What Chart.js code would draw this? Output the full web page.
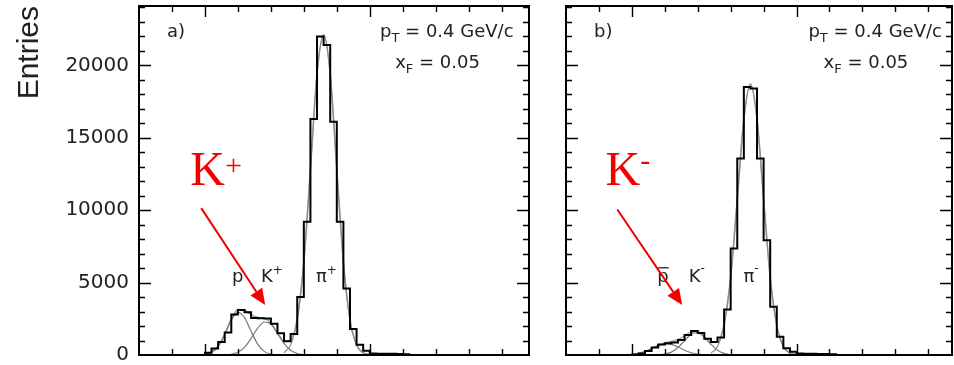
<!DOCTYPE html>
<html><head><meta charset="utf-8">
<script src="https://cdn.jsdelivr.net/npm/chart.js@4/dist/chart.umd.min.js"></script>
<style>
html,body{margin:0;padding:0;background:#fff;overflow:hidden}
#wrap{position:relative;width:954px;height:365px;background:#fff}
#cA{position:absolute;left:0;top:0}
#cB{position:absolute;left:545px;top:0}
</style></head><body>
<div id="wrap"><canvas id="cA" width="545" height="365"></canvas><canvas id="cB" width="409" height="365"></canvas></div>
<script>
// ---- data (x in axis-tick units, 0.2 per bin) ----
const binLow = [1.8,2.0,2.2,2.4,2.6,2.8,3.0,3.2,3.4,3.6,3.8,4.0,4.2,4.4,4.6,4.8,5.0,5.2,5.4,5.6,5.8,6.0,6.2,6.4,6.6,6.8,7.0,7.2,7.4,7.6,7.8,8.0,8.2];
const lastEdge = 8.4;
const countsA = [0,150,450,900,1550,2800,3100,2950,2550,2530,2520,2150,1500,950,1450,4000,9200,16300,22000,21400,16100,9200,4600,1800,700,300,100,90,80,80,70,60,0];
const countsB = [0,40,110,280,520,720,820,870,1040,1380,1650,1520,1120,900,1200,3150,7360,13570,18500,18400,13570,7930,3330,1260,460,230,110,90,80,70,70,60,0];

const fitX = [1.8,2.0,2.2,2.4,2.6,2.8,3.0,3.2,3.4,3.6,3.8,4.0,4.2,4.4,4.6,4.8,5.0,5.2,5.4,5.6,5.8,6.0,6.2,6.4,6.6,6.8,7.0,7.2,7.4];
const N = null;
const pFitA  = [N,40,190,610,1430,2420,2950,2580,1640,750,250,60,10,N,N,N,N,N,N,N,N,N,N,N,N,N,N,N,N];
const kFitA  = [N,N,N,N,N,50,190,530,1140,1850,2280,2130,1500,810,330,100,25,N,N,N,N,N,N,N,N,N,N,N,N];
const piFitA = [N,N,N,N,N,N,N,N,N,N,N,N,N,150,700,2430,6410,12820,19420,22100,19420,12820,6410,2430,700,150,25,N,N];
const totFitA= [N,40,190,610,1430,2470,3140,3110,2780,2600,2530,2190,1510,960,1030,2530,6435,12820,19420,22100,19420,12820,6410,2430,700,150,25,N,N];
const pFitB  = [N,34,100,236,440,654,775,732,551,331,158,60,18,N,N,N,N,N,N,N,N,N,N,N,N,N,N,N,N];
const kFitB  = [N,N,N,N,N,12,58,199,514,991,1427,1535,1234,741,332,111,28,N,N,N,N,N,N,N,N,N,N,N,N];
const piFitB = [N,N,N,N,N,N,N,N,N,N,N,N,N,127,580,2040,5370,10750,16290,18700,16290,10750,5370,2040,580,127,20,N,N];
const totFitB= [N,34,100,236,440,666,833,931,1065,1322,1585,1595,1252,868,912,2151,5398,10750,16290,18700,16290,10750,5370,2040,580,127,20,N,N];

const yTickValues = [0,5000,10000,15000,20000];
const yMax = 24100;
const xMaxA = 11.83, xMaxB = 11.72;
const xMajorTicks = [2,7];
const labelsA = {tag:'a)', peaks:[['p',''],['K','+'],['\u03c0','+']], big:['K','+']};
const labelsB = {tag:'b)', peaks:[['p','bar'],['K','-'],['\u03c0','-']], big:['K','-']};

// ---- helpers ----
function hist(counts){
  const pts = binLow.map((x,i)=>({x, y:counts[i]}));
  pts.push({x:lastEdge, y:0});
  return pts;
}
function curve(arr){ return fitX.map((x,i)=>({x, y:arr[i]})); }

const SANS = 'DejaVu Sans';
function partsDraw(ctx, px, py, parts){
  let cx = px;
  for (const p of parts){
    ctx.font = p.f; ctx.fillStyle = p.c || '#222';
    ctx.fillText(p.t, cx, py + (p.dy||0));
    cx += ctx.measureText(p.t).width;
  }
  return cx;
}

function deco(pos, labels){
  return {
    id:'deco',
    afterDatasetsDraw(chart){
      const {ctx, chartArea:a, scales:{x, y}} = chart;
      ctx.save();
      // tick marks
      ctx.strokeStyle = '#000'; ctx.lineWidth = 1.4;
      ctx.beginPath();
      for (let v = 1; v < x.max; v += 1){
        const px = Math.round(x.getPixelForValue(v)) + 0.5;
        const len = xMajorTicks.includes(v) ? 11 : 6;
        ctx.moveTo(px, a.bottom); ctx.lineTo(px, a.bottom - len);
        ctx.moveTo(px, a.top); ctx.lineTo(px, a.top + len);
      }
      for (let v = 1000; v < y.max; v += 1000){
        const py = Math.round(y.getPixelForValue(v)) + 0.5;
        const len = (v % 5000 === 0) ? 12 : 6;
        ctx.moveTo(a.left, py); ctx.lineTo(a.left + len, py);
        ctx.moveTo(a.right, py); ctx.lineTo(a.right - len, py);
      }
      ctx.stroke();
      ctx.lineWidth = 2;
      ctx.strokeRect(a.left, a.top, a.right - a.left, a.bottom - a.top);

      ctx.textAlign = 'left'; ctx.textBaseline = 'alphabetic';
      const X = v => x.getPixelForValue(v), Y = v => y.getPixelForValue(v);
      const F18 = '18px ' + JSON.stringify(SANS), F13 = '13px ' + JSON.stringify(SANS), F11 = '12px ' + JSON.stringify(SANS);
      // panel tag
      partsDraw(ctx, X(pos.tag[0]), Y(pos.tag[1]), [{t:labels.tag, f:F18}]);
      // pT and xF
      partsDraw(ctx, X(pos.pT[0]), Y(pos.pT[1]), [{t:'p', f:F18},{t:'T', f:F13, dy:5},{t:' = 0.4 GeV/c', f:F18}]);
      partsDraw(ctx, X(pos.xF[0]), Y(pos.xF[1]), [{t:'x', f:F18},{t:'F', f:F13, dy:5},{t:' = 0.05', f:F18}]);
      // peak labels
      labels.peaks.forEach((pk, i) => {
        const px = X(pos.peaks[i][0]), py = Y(pos.peaks[i][1]);
        if (pk[1] === 'bar'){
          ctx.font = F18;
          const w = ctx.measureText('p').width;
          partsDraw(ctx, px, py, [{t:'p', f:F18}]);
          ctx.strokeStyle = '#222'; ctx.lineWidth = 1.3;
          ctx.beginPath(); ctx.moveTo(px + 1, py - 14); ctx.lineTo(px + w, py - 14); ctx.stroke();
        } else {
          const parts = [{t:pk[0], f:F18}];
          if (pk[1]) parts.push({t:pk[1], f:F11, dy: pk[1] === '+' ? -8 : -10});
          partsDraw(ctx, px, py, parts);
        }
      });
      // big red label
      const red = '#f20000';
      partsDraw(ctx, X(pos.big[0]), Y(pos.big[1]), [
        {t:labels.big[0], f:'48px "Liberation Serif"', c:red},
        {t:labels.big[1], f:'30px "Liberation Serif"', c:red, dy: labels.big[1] === '+' ? -10 : -15}
      ]);
      // arrow
      const x0 = X(pos.arrow[0]), y0 = Y(pos.arrow[1]), x1 = X(pos.arrow[2]), y1 = Y(pos.arrow[3]);
      const ang = Math.atan2(y1 - y0, x1 - x0), hl = 16, hw = 7;
      const bx = x1 - hl * Math.cos(ang), by = y1 - hl * Math.sin(ang);
      ctx.strokeStyle = red; ctx.fillStyle = red; ctx.lineWidth = 2;
      ctx.beginPath(); ctx.moveTo(x0, y0); ctx.lineTo(bx, by); ctx.stroke();
      ctx.beginPath(); ctx.moveTo(x1, y1);
      ctx.lineTo(bx + hw * Math.sin(ang), by - hw * Math.cos(ang));
      ctx.lineTo(bx - hw * Math.sin(ang), by + hw * Math.cos(ang));
      ctx.closePath(); ctx.fill();
      ctx.restore();
    }
  };
}

const posA = {tag:[0.85,21930], pT:[7.31,21930], xF:[7.77,19790],
  peaks:[[2.82,5055],[3.70,5055],[5.37,5055]], big:[1.555,11725], arrow:[1.888,10139,3.827,3449]};
const posB = {tag:[0.85,21930], pT:[7.36,21930], xF:[7.82,19790],
  peaks:[[2.77,5055],[3.727,5055],[5.39,5055]], big:[1.203,11725], arrow:[1.558,10049,3.528,3449]};

function datasets(counts, p, k, pi, tot){
  const fit = (arr, col, w) => ({data: curve(arr), borderColor: col, borderWidth: w, pointRadius: 0,
    cubicInterpolationMode: 'monotone', spanGaps: false, fill: false});
  return [
    {data: hist(counts), stepped: true, borderColor: '#000', borderWidth: 2, pointRadius: 0, fill: false},
    fit(p, '#7a7a7a', 1.2), fit(k, '#7a7a7a', 1.2), fit(pi, '#8a8a8a', 1.2), fit(tot, '#a8a8a8', 1.6)
  ];
}

function baseOptions(xMax){
  return {
    responsive: false, animation: false, events: [],
    plugins: {legend: {display: false}, tooltip: {enabled: false}},
    scales: {
      x: {type: 'linear', min: 0, max: xMax, display: false},
      y: {type: 'linear', min: 0, max: yMax, display: false}
    }
  };
}

const optA = baseOptions(xMaxA);
optA.layout = {padding: {left: 0, right: 16, top: 6, bottom: 10}};
optA.scales.y = {
  type: 'linear', min: 0, max: yMax, display: true,
  afterFit(s){ s.width = 139; s.paddingTop = 0; s.paddingBottom = 0; },
  afterBuildTicks(s){ s.ticks = yTickValues.map(v => ({value: v})); },
  grid: {display: false, drawTicks: false}, border: {display: false},
  ticks: {padding: 10, font: {family: SANS, size: 20}, color: '#222', callback: v => String(v)},
  title: {display: true, text: 'Entries', align: 'end', color: '#222',
    font: {family: 'Liberation Sans', size: 30, lineHeight: 1.2}, padding: {top: 12, bottom: 0}}
};
new Chart(document.getElementById('cA'), {
  type: 'line',
  data: {datasets: datasets(countsA, pFitA, kFitA, piFitA, totFitA)},
  options: optA,
  plugins: [deco(posA, labelsA)]
});

const optB = baseOptions(xMaxB);
optB.layout = {padding: {left: 21, right: 2, top: 6, bottom: 10}};
new Chart(document.getElementById('cB'), {
  type: 'line',
  data: {datasets: datasets(countsB, pFitB, kFitB, piFitB, totFitB)},
  options: optB,
  plugins: [deco(posB, labelsB)]
});
</script>
</body></html>
